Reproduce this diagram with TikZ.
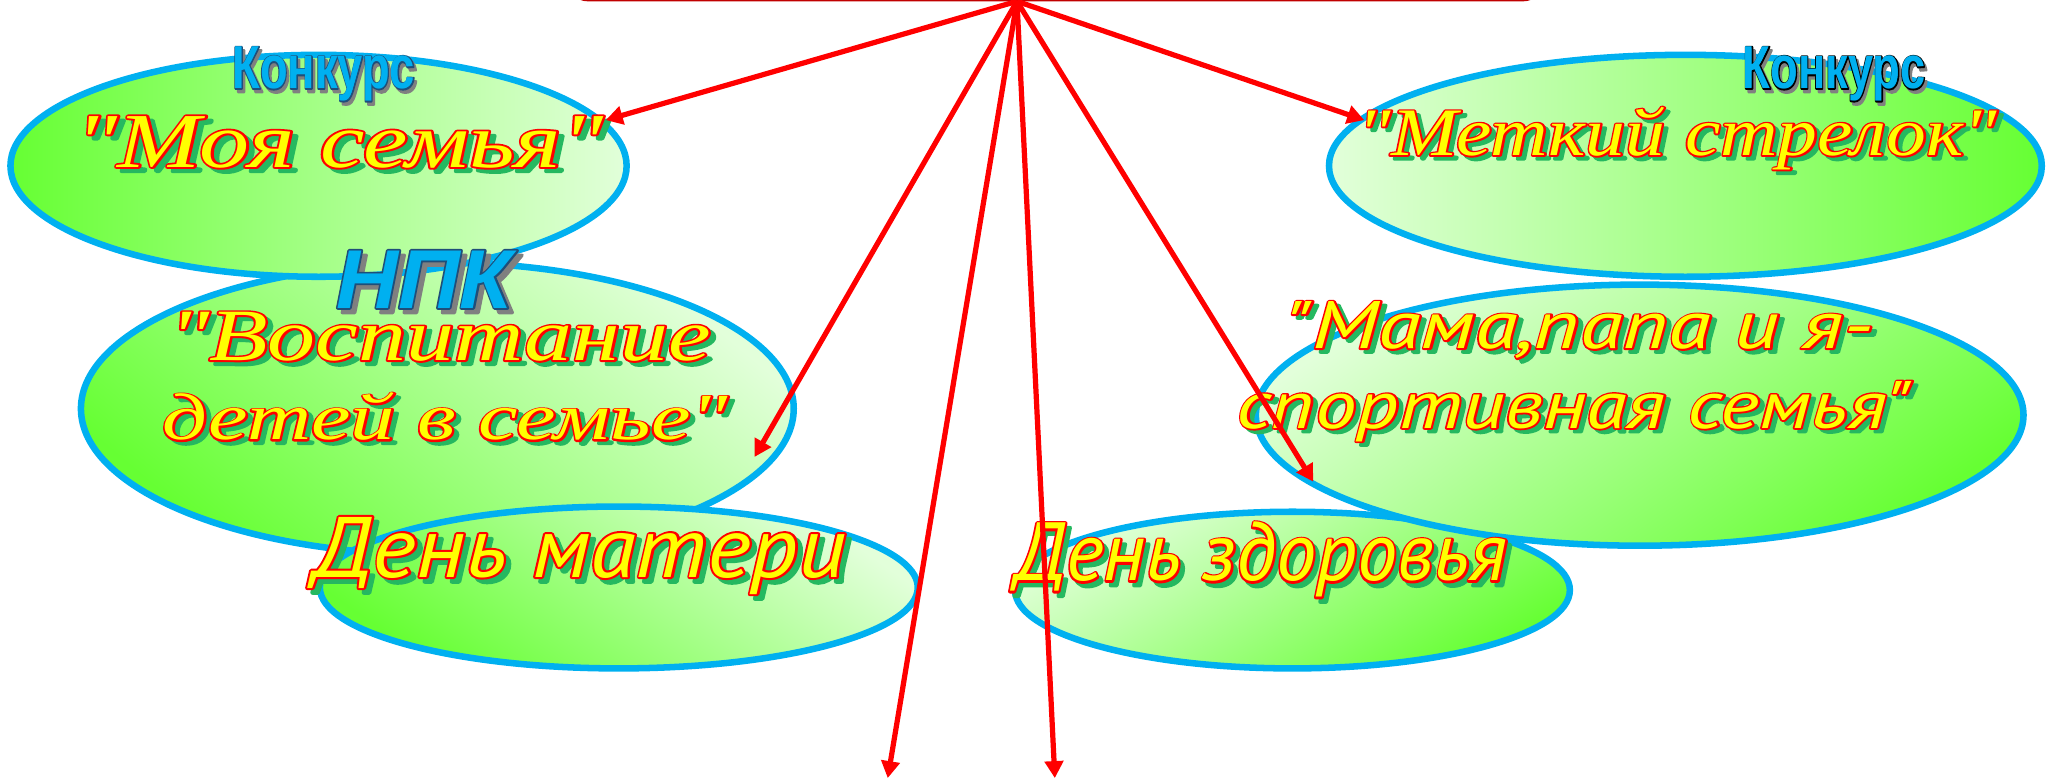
\documentclass[tikz,border=0pt]{standalone}
\usepackage{fontspec}
\setmainfont{Liberation Serif}
\newfontfamily\scriptf{Liberation Serif}
\newfontfamily\sansc{PT Sans}
\newfontfamily\boldf{Liberation Sans}
\usepackage{graphicx}
\usetikzlibrary{shapes.geometric,arrows.meta}
\definecolor{ebl}{HTML}{00B0F0}
\definecolor{egr}{HTML}{66FF33}
\definecolor{epl}{HTML}{E2FFDA}
\definecolor{yfill}{HTML}{FFFF00}
\definecolor{rline}{HTML}{FF0000}
\definecolor{sgreen}{HTML}{25B860}
\definecolor{kblue}{HTML}{00B0F0}
\definecolor{kdark}{HTML}{1F4E79}
\definecolor{kgray}{HTML}{7F7F7F}
\definecolor{arr}{HTML}{FF0000}
\definecolor{topred}{HTML}{C00000}
% outlined text via PDF text render mode: #1 stroke rgb, #2 stroke width, #3 text
\newcommand\outl[3]{\special{pdf:literal direct 2 Tr #2 w 1 j #1 RG}#3\special{pdf:literal direct 0 Tr}}
% #1 fill colour, #2 outline rgb, #3 outline width, #4 shadow colour, #5 shadow rgb, #6 text
\newcommand\fx[6]{\leavevmode\rlap{\kern2.2pt\raisebox{-2.2pt}{\color{#4}\outl{#5}{#3}{#6}}}\rlap{\color{#1}\outl{#2}{#3}{#6}}{\color{#1}#6}}
\newcommand\scr[3]{\resizebox{#1}{#2}{\fontsize{40}{48}\selectfont\scriptf\itshape\fx{yfill}{1 0 0}{1.9}{sgreen}{0.145 0.722 0.376}{#3}}}
\newcommand\sns[3]{\resizebox{#1}{#2}{\fontsize{40}{48}\selectfont\sansc\itshape\fx{yfill}{1 0 0}{1.9}{sgreen}{0.145 0.722 0.376}{#3}}}
\newcommand\kon[4]{\resizebox{#1}{#2}{\fontsize{40}{48}\selectfont\boldf\bfseries\fx{kblue}{#3}{1.6}{kgray}{0.5 0.5 0.5}{#4}}}
\tikzset{
  ell/.style={ellipse, draw=ebl, line width=5pt, inner sep=0pt},
  txt/.style={inner sep=0pt, anchor=base},
  arrowline/.style={draw=arr, line width=4pt, -{Triangle[length=13pt,width=14pt]}}
}
\begin{document}
\begin{tikzpicture}[x=1pt,y=-1pt]
\useasboundingbox (0,0) rectangle (1568,597);
\begin{scope}
\clip (0,0) rectangle (1568,597);
\node[draw=topred, line width=2pt, fill=white, rounded corners=14pt, minimum width=745pt, minimum height=60pt, anchor=south west] (top) at (435,1) {};
\end{scope}
% ellipses
\node[ell, minimum width=546pt, minimum height=224pt, top color=epl, bottom color=egr, shading angle=-40] (e2) at (335,313) {};
\node[ell, minimum width=472pt, minimum height=170pt, left color=egr, right color=epl] (e1) at (244,127) {};
\node[ell, minimum width=458pt, minimum height=124pt, top color=epl, bottom color=egr, shading angle=-35] (e3) at (474,450) {};
\node[ell, minimum width=546pt, minimum height=170pt, left color=epl, right color=egr] (e4) at (1291,127) {};
\node[ell, minimum width=425pt, minimum height=120pt, top color=epl, bottom color=egr, shading angle=30] (e6) at (990,452) {};
\node[ell, minimum width=588pt, minimum height=200pt, top color=epl, bottom color=egr, shading angle=35] (e5) at (1256,318) {};
% texts
\node[txt] (t2) at (248,68) {\kon{140pt}{32pt}{0.122 0.306 0.475}{Конкурс}};
\node[txt] (t1) at (260,128) {\scr{404pt}{39pt}{"Моя семья"}};
\node[txt] (t3) at (325,236) {\kon{135pt}{44pt}{0.122 0.306 0.475}{\itshape НПК}};
\node[txt] (t4) at (337,276) {\scr{415pt}{37pt}{"Воспитание}};
\node[txt] (t5) at (341,337) {\scr{433pt}{36pt}{детей в семье"}};
\node[txt] (t6) at (1405,68) {\kon{140pt}{32pt}{0 0 0}{Конкурс}};
\node[txt] (t7) at (1285,119) {\scr{490pt}{37pt}{"Меткий стрелок"}};
\node[txt] (t8) at (1210,267) {\sns{450pt}{36pt}{"Мама,папа и я-}};
\node[txt] (t9) at (1206,328) {\sns{517pt}{36pt}{спортивная семья"}};
\node[txt] (t10) at (444,442) {\sns{408pt}{46pt}{День матери}};
\node[txt] (t11) at (966,445) {\sns{377pt}{45pt}{День здоровья}};
% arrows
\coordinate (src) at (779,1);
\coordinate (a1) at (464,92);
\coordinate (a2) at (578,350);
\coordinate (a3) at (680,596);
\coordinate (a4) at (808,596);
\coordinate (a5) at (1006,369);
\coordinate (a6) at (1045,92);
\foreach \t in {a1,a2,a3,a4,a5,a6} \draw[arrowline] (src) -- (\t);
\end{tikzpicture}
\end{document}
